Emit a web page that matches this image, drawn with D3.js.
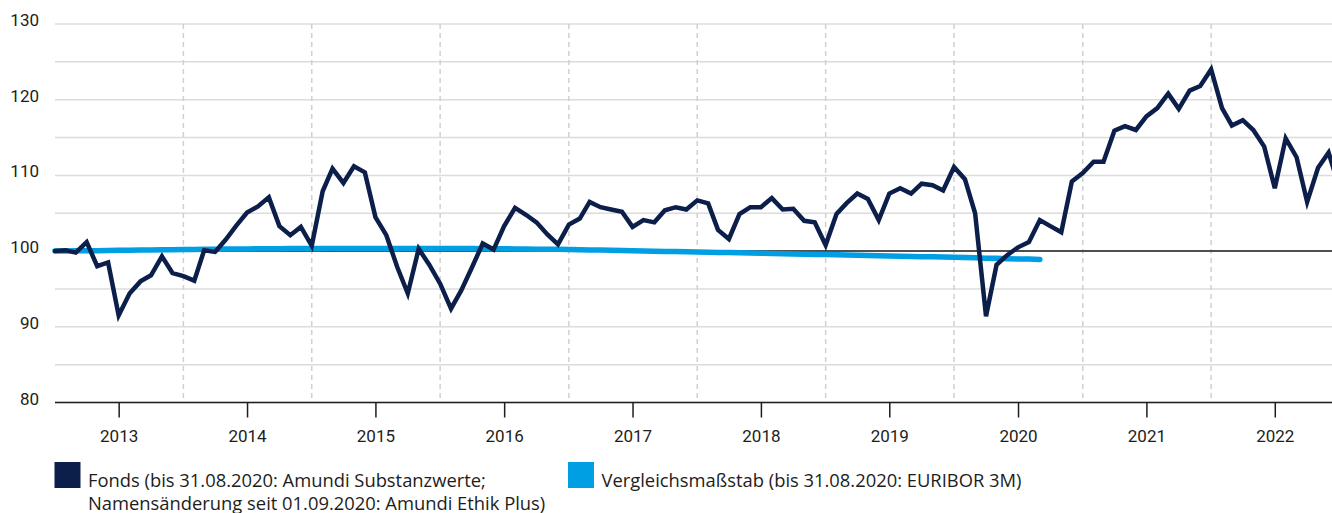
<!DOCTYPE html>
<html>
<head>
<meta charset="utf-8">
<script src="https://cdn.jsdelivr.net/npm/d3@7"></script>
<style>
  body { margin: 0; background: #fff; }
  text { font-family: Roboto, sans-serif; fill: #1d1d1b; }
  .legend text { font-family: "Open Sans", sans-serif; }
</style>
</head>
<body>
<svg width="1332" height="513"></svg>
<script>
// monthly values, first value = Jan 2013
var fonds = [
  100.0, 100.1, 99.8, 101.2, 98.0, 98.5, 91.5, 94.4, 96.0, 96.8, 99.3, 97.1,
  96.7, 96.1, 100.1, 99.9, 101.5, 103.4, 105.1, 105.9, 107.1, 103.3, 102.1, 103.2,
  100.7, 107.9, 110.9, 109.0, 111.2, 110.4, 104.5, 102.1, 97.9, 94.4, 100.3, 98.2,
  95.7, 92.4, 94.8, 97.9, 101.0, 100.2, 103.3, 105.7, 104.8, 103.8, 102.2, 100.9,
  103.5, 104.3, 106.5, 105.8, 105.5, 105.2, 103.2, 104.1, 103.8, 105.4, 105.8, 105.5,
  106.7, 106.3, 102.8, 101.6, 104.9, 105.8, 105.8, 107.0, 105.5, 105.6, 104.0, 103.8,
  100.8, 104.9, 106.3, 107.6, 106.9, 104.1, 107.6, 108.3, 107.6, 108.9, 108.7, 108.0,
  111.1, 109.5, 105.0, 91.4, 98.2, 99.5, 100.5, 101.2, 104.1, 103.3, 102.5, 109.2,
  110.3, 111.8, 111.8, 115.9, 116.5, 116.0, 117.8, 118.9, 120.8, 118.8, 121.2, 121.8,
  124.0, 118.9, 116.6, 117.3, 116.0, 113.8, 108.3, 114.9, 112.4, 106.5, 111.0, 113.0,
  108.3
];
var euribor = [
  100.00, 100.01, 100.03, 100.04, 100.06, 100.08, 100.10, 100.11, 100.13, 100.15, 100.17, 100.19,
  100.21, 100.22, 100.24, 100.25, 100.27, 100.28, 100.29, 100.30, 100.31, 100.32, 100.33, 100.34,
  100.35, 100.35, 100.36, 100.36, 100.36, 100.36, 100.36, 100.36, 100.36, 100.36, 100.35, 100.35,
  100.35, 100.34, 100.34, 100.33, 100.32, 100.31, 100.30, 100.29, 100.27, 100.26, 100.25, 100.23,
  100.21, 100.18, 100.15, 100.13, 100.10, 100.07, 100.05, 100.02, 99.99, 99.96, 99.94, 99.91,
  99.89, 99.86, 99.83, 99.80, 99.77, 99.74, 99.71, 99.68, 99.65, 99.62, 99.59, 99.56,
  99.54, 99.51, 99.48, 99.45, 99.42, 99.39, 99.36, 99.33, 99.30, 99.27, 99.24, 99.21,
  99.18, 99.14, 99.11, 99.07, 99.04, 99.00, 98.97, 98.94, 98.90
];
var years = [2013, 2014, 2015, 2016, 2017, 2018, 2019, 2020, 2021, 2022];
var yTicks = [80, 90, 100, 110, 120, 130];
var yGrid = [80, 85, 90, 95, 100, 105, 110, 115, 120, 125, 130];
var legendFonds = ["Fonds (bis 31.08.2020: Amundi Substanzwerte;",
                   "Namensänderung seit 01.09.2020: Amundi Ethik Plus)"];
var legendBench = "Vergleichsmaßstab (bis 31.08.2020: EURIBOR 3M)";

var months = d3.timeMonth.range(new Date(2013, 0, 1), new Date(2023, 1, 1));

var svg = d3.select("svg");
var W = 1332;
var left = 55;

var x = d3.scaleTime().domain([new Date(2013, 0, 1), new Date(2023, 0, 1)]).range([left, 1339.5]);
var y = d3.scaleLinear().domain([80, 130]).range([402.5, 24]);

// horizontal grid
svg.append("g").selectAll("line").data(yGrid).enter().append("line")
  .attr("x1", left).attr("x2", W)
  .attr("y1", d => y(d)).attr("y2", d => y(d))
  .attr("stroke", "#dcdcdc").attr("stroke-width", 1.5);

// year boundaries (dashed)
svg.append("g").selectAll("line").data(years.slice(1)).enter().append("line")
  .attr("x1", d => x(new Date(d, 0, 1))).attr("x2", d => x(new Date(d, 0, 1)))
  .attr("y1", y(130)).attr("y2", y(80))
  .attr("stroke", "#d0d0d0").attr("stroke-width", 1.5)
  .attr("stroke-dasharray", "5,4");

// y labels
svg.append("g").selectAll("text").data(yTicks).enter().append("text")
  .attr("x", 39).attr("y", d => y(d) + 2)
  .attr("text-anchor", "end")
  .attr("font-size", "17px")
  .text(d => d);

// x axis
var xAxis = d3.axisBottom(x)
  .tickValues(years.map(d => new Date(d, 6, 1)))
  .tickFormat(d3.timeFormat("%Y"))
  .tickSize(15).tickPadding(12);
var ax = svg.append("g").attr("transform", "translate(0," + y(80) + ")").call(xAxis);
ax.select(".domain").remove();
ax.selectAll(".tick line").attr("stroke", "#1d1d1b").attr("stroke-width", 1.5);
ax.selectAll(".tick text").attr("font-size", "17px").attr("font-family", "Roboto, sans-serif").attr("fill", "#1d1d1b");
svg.append("line")
  .attr("x1", left).attr("x2", W).attr("y1", y(80)).attr("y2", y(80))
  .attr("stroke", "#1d1d1b").attr("stroke-width", 1.5);

// reference line at 100
svg.append("line")
  .attr("x1", left).attr("x2", W).attr("y1", y(100)).attr("y2", y(100))
  .attr("stroke", "#1d1d1b").attr("stroke-width", 1.5);

var line = d3.line()
  .x((d, i) => x(months[i]))
  .y(d => y(d));

svg.append("path").datum(euribor)
  .attr("d", line)
  .attr("fill", "none")
  .attr("stroke", "#009ee3")
  .attr("stroke-width", 5.5)
  .attr("stroke-linecap", "round");

svg.append("path").datum(fonds)
  .attr("d", line)
  .attr("fill", "none")
  .attr("stroke", "#0c1f4b")
  .attr("stroke-width", 4.5)
  .attr("stroke-linecap", "round");

// legend
var lg = svg.append("g").attr("class", "legend");
lg.append("rect").attr("x", 54.5).attr("y", 462).attr("width", 26).attr("height", 26).attr("fill", "#0c1f4b");
lg.append("text").attr("x", 88).attr("y", 486.5).text(legendFonds[0]);
lg.append("text").attr("x", 88).attr("y", 510).text(legendFonds[1]);
lg.append("rect").attr("x", 568).attr("y", 462).attr("width", 26).attr("height", 26).attr("fill", "#009ee3");
var bench = lg.append("text").attr("x", 601.5).attr("y", 486.5).text(legendBench);

// size the legend font so the benchmark label spans like in the source
lg.selectAll("text").attr("font-size", "16px");
var fs = 16 * 420 / bench.node().getComputedTextLength();
lg.selectAll("text").attr("font-size", fs.toFixed(2) + "px");
</script>
</body>
</html>
